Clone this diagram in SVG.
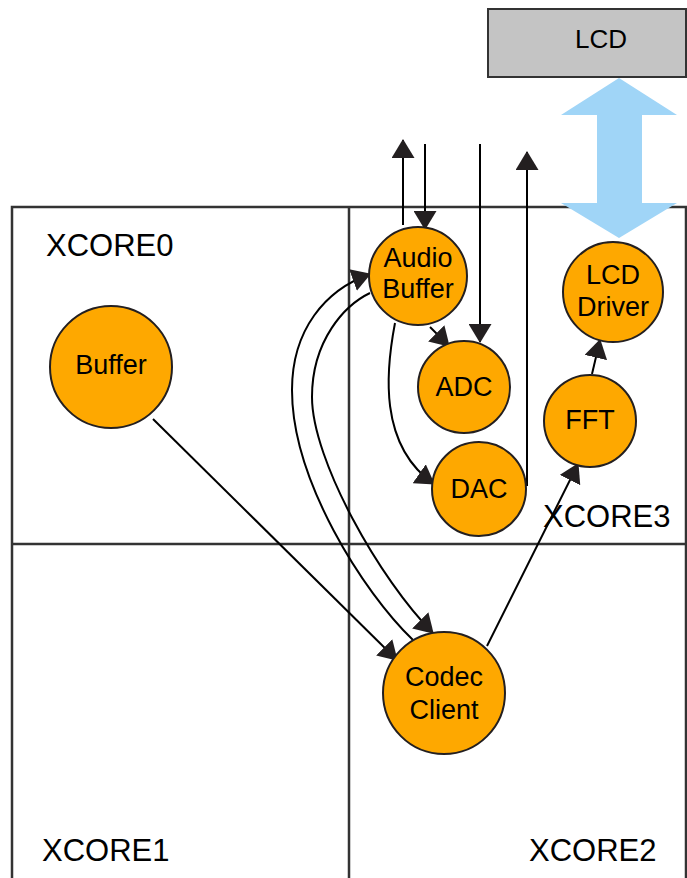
<svg xmlns="http://www.w3.org/2000/svg" width="687" height="878" viewBox="0 0 687 878">
<style>
.grid{fill:none;stroke:#333;stroke-width:2.5}
.lbl{font-family:"Liberation Sans",Arial,sans-serif;font-size:31px;fill:#000}
.node circle{fill:#fea800;stroke:#231f20;stroke-width:2}
.node text{font-family:"Liberation Sans",Arial,sans-serif;font-size:27px;fill:#000;text-anchor:middle}
.edge{fill:none;stroke:#000;stroke-width:2;marker-end:url(#ah)}
</style>
<defs>
<marker id="ah" markerUnits="userSpaceOnUse" viewBox="0 0 19 23" markerWidth="19" markerHeight="23" refX="18" refY="11.5" orient="auto">
<path d="M0,0 L19,11.5 L0,23 z" fill="#231f20"/>
</marker>
</defs>
<rect width="687" height="878" fill="#fff"/>
<g id="grid">
<rect class="grid" x="12" y="207" width="674" height="680"/>
<line class="grid" x1="349" y1="207" x2="349" y2="878"/>
<line class="grid" x1="12" y1="544" x2="686" y2="544"/>
<text class="lbl" x="46" y="256">XCORE0</text>
<text class="lbl" x="42" y="861">XCORE1</text>
<text class="lbl" x="529" y="861">XCORE2</text>
<text class="lbl" x="543" y="527">XCORE3</text>
</g>
<g id="lcd">
<rect x="488" y="9" width="198" height="68" fill="#c4c4c4" stroke="#333" stroke-width="2"/>
<text x="601" y="48" font-family="Liberation Sans,Arial,sans-serif" font-size="26" text-anchor="middle">LCD</text>
</g>
<g id="connectors">
<polygon points="619,78 561,115 597,115 597,203 561,203 619,238 677,203 642,203 642,115 677,115" fill="#a0d5f7"/>
<line class="edge" x1="403" y1="225" x2="403" y2="140"/>
<line class="edge" x1="425" y1="144" x2="425" y2="229"/>
<line class="edge" x1="480" y1="144" x2="480" y2="342"/>
<line class="edge" x1="527" y1="486" x2="527" y2="152"/>
<line class="edge" x1="430" y1="327" x2="449" y2="346"/>
<path class="edge" d="M395,323 C386,370 378,445 434,484"/>
<path class="edge" d="M413,640 C363,592 292,480 292,390 C292,330 325,290 370,274"/>
<path class="edge" d="M370,293 C345,305 312,340 312,397 C312,460 380,580 433,633"/>
<line class="edge" x1="153" y1="419" x2="397" y2="660"/>
<line class="edge" x1="487" y1="646" x2="578" y2="464"/>
<line class="edge" x1="592" y1="374" x2="600" y2="340"/>
</g>
<g id="buffer" class="node"><circle cx="111" cy="367" r="61"/><text x="111" y="374">Buffer</text></g>
<g id="audio-buffer" class="node"><circle cx="418" cy="276" r="49"/><text x="418" y="267">Audio</text><text x="418" y="298">Buffer</text></g>
<g id="adc" class="node"><circle cx="464" cy="387" r="46"/><text x="464" y="396">ADC</text></g>
<g id="dac" class="node"><circle cx="479" cy="489" r="47"/><text x="479" y="498">DAC</text></g>
<g id="lcd-driver" class="node"><circle cx="613" cy="292" r="50"/><text x="613" y="284">LCD</text><text x="613" y="316">Driver</text></g>
<g id="fft" class="node"><circle cx="590" cy="421" r="46"/><text x="590" y="429">FFT</text></g>
<g id="codec-client" class="node"><circle cx="444" cy="693" r="61"/><text x="444" y="686">Codec</text><text x="444" y="719">Client</text></g>
</svg>
